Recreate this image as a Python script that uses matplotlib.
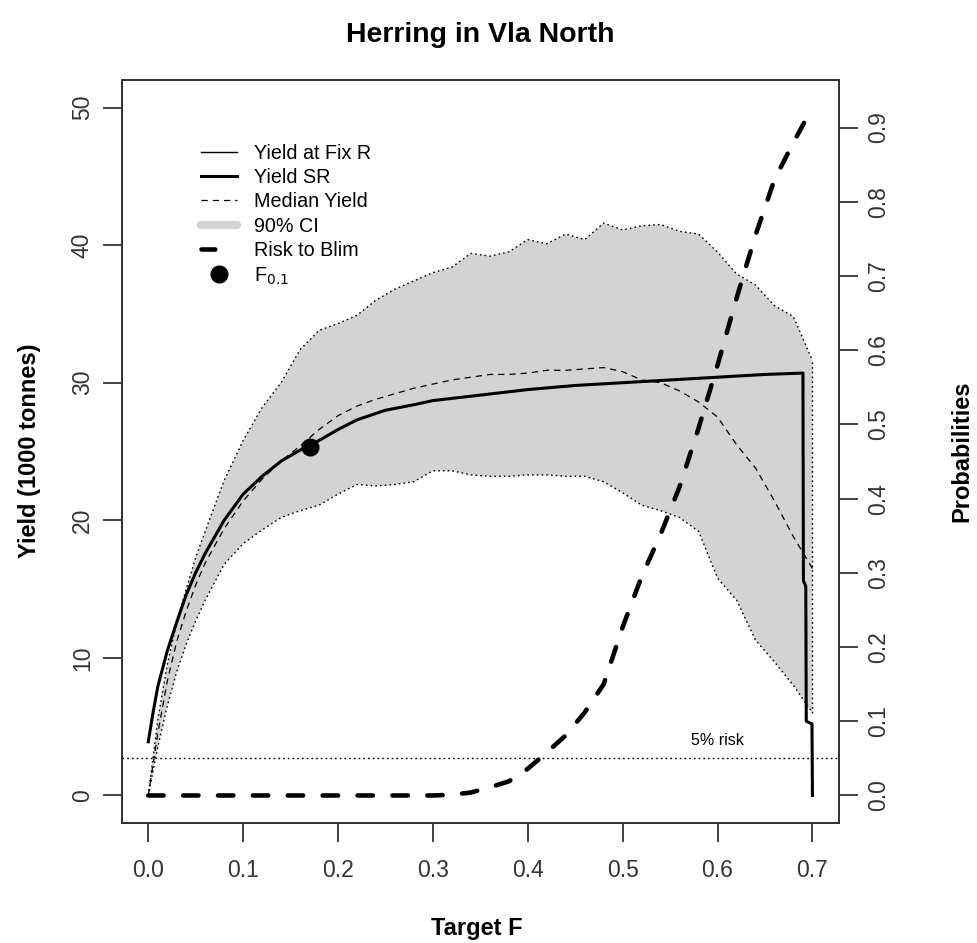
import matplotlib
matplotlib.use("Agg")
import matplotlib.pyplot as plt
from matplotlib.lines import Line2D

plt.rcParams['font.family'] = ['Liberation Sans', 'DejaVu Sans']

# Yield at stock-recruit model (thick solid)
f_sr = [0, 0.005, 0.01, 0.02, 0.03, 0.04, 0.05, 0.06, 0.08, 0.10, 0.12, 0.14,
        0.16, 0.18, 0.20, 0.22, 0.25, 0.28, 0.30, 0.35, 0.40, 0.45, 0.50, 0.55,
        0.60, 0.65, 0.69, 0.6905, 0.6930, 0.6935, 0.6995, 0.70]
yield_sr = [3.9, 6.0, 7.9, 10.5, 12.6, 14.6, 16.2, 17.6, 20.0, 21.9, 23.2, 24.3,
            25.1, 25.8, 26.6, 27.3, 28.0, 28.4, 28.7, 29.1, 29.5, 29.8, 30.0, 30.2,
            30.4, 30.6, 30.7, 15.6, 15.2, 5.4, 5.2, 0.0]

# Simulated yield: median and 90% interval
f_sim = [0, 0.01, 0.02, 0.03, 0.04, 0.05, 0.06, 0.08, 0.10, 0.12, 0.14, 0.16,
         0.18, 0.20, 0.22, 0.24, 0.26, 0.28, 0.30, 0.32, 0.34, 0.36, 0.38, 0.40,
         0.42, 0.44, 0.46, 0.48, 0.50, 0.52, 0.54, 0.56, 0.58, 0.60, 0.62, 0.64,
         0.66, 0.68, 0.70]
yield_median = [0, 4.5, 8.3, 11.2, 13.4, 15.3, 16.9, 19.4, 21.4, 23.0, 24.3, 25.4,
                26.6, 27.6, 28.3, 28.8, 29.2, 29.6, 29.9, 30.2, 30.4, 30.6, 30.6, 30.7,
                30.9, 30.9, 31.0, 31.1, 30.8, 30.2, 30.0, 29.4, 28.6, 27.5, 25.5, 23.8,
                21.4, 18.8, 16.5]
yield_upper = [0, 5.5, 9.5, 12.6, 15.0, 17.3, 19.2, 22.9, 25.8, 28.2, 30.0, 32.4,
               33.8, 34.3, 34.9, 36.0, 36.8, 37.4, 38.0, 38.4, 39.4, 39.2, 39.5, 40.4,
               40.1, 40.8, 40.4, 41.6, 41.1, 41.4, 41.5, 41.0, 40.8, 39.5, 37.9, 37.1,
               35.6, 34.8, 31.6]
yield_lower = [0, 3.5, 6.5, 9.0, 11.0, 12.7, 14.2, 16.8, 18.3, 19.3, 20.2, 20.7,
               21.1, 21.9, 22.6, 22.5, 22.6, 22.8, 23.6, 23.6, 23.3, 23.2, 23.2, 23.3,
               23.3, 23.2, 23.2, 22.8, 22.0, 21.1, 20.7, 20.2, 19.2, 15.8, 14.2, 11.3,
               9.7, 8.0, 6.0]

# Probability of SSB falling below Blim
f_risk = [0, 0.30, 0.32, 0.34, 0.36, 0.38, 0.40, 0.42, 0.44, 0.46, 0.48, 0.50,
          0.52, 0.54, 0.56, 0.58, 0.60, 0.62, 0.64, 0.66, 0.68, 0.70]
risk_blim = [0, 0, 0.001, 0.004, 0.011, 0.019, 0.036, 0.058, 0.081, 0.112, 0.150,
             0.227, 0.295, 0.352, 0.416, 0.495, 0.58, 0.67, 0.755, 0.83, 0.88, 0.927]

f01 = 0.17
yield_f01 = 25.3
risk_level = 0.05

x_ticks = [0.0, 0.1, 0.2, 0.3, 0.4, 0.5, 0.6, 0.7]
y_ticks = [0, 10, 20, 30, 40, 50]
p_ticks = [0.0, 0.1, 0.2, 0.3, 0.4, 0.5, 0.6, 0.7, 0.8, 0.9]

W, H = 978, 943
fig = plt.figure(figsize=(W / 100, H / 100), dpi=100)
ax = fig.add_axes([121.7 / W, 1 - 823 / H, (839 - 121.7) / W, (823 - 80) / H])

ymax_data = 50.0
ylim = (-0.04 * ymax_data, 1.04 * ymax_data)
pscale = max(risk_blim) / ymax_data

DOT = (1.2, 2.2)
RISK_DASH = (3.35, 4.26)

# 90% interval band
band_x = f_sim + f_sim[::-1]
band_y = yield_upper + yield_lower[::-1]
ax.fill(band_x, band_y, facecolor='#d3d3d3', edgecolor='none', zorder=1)
ax.plot(f_sim, yield_upper, color='black', lw=1.0, dashes=DOT, zorder=2)
ax.plot(f_sim, yield_lower, color='black', lw=1.0, dashes=DOT, zorder=2)
ax.plot([f_sim[-1], f_sim[-1]], [yield_lower[-1], yield_upper[-1]],
        color='black', lw=1.0, dashes=DOT, zorder=2)

ax.plot(f_sim, yield_median, color='black', lw=0.9, dashes=(5, 4), zorder=3)
ax.plot(f_sr, yield_sr, color='black', lw=2.2, zorder=4)

# risk line drawn on the yield scale, right axis shows probabilities
ax.plot(f_risk, [r / pscale for r in risk_blim], color='black', lw=3.3,
        dashes=RISK_DASH, dash_capstyle='round', zorder=5)
ax.axhline(risk_level / pscale, color='black', lw=1.0, dashes=DOT, zorder=5)
ax.text(0.6, 4.0, '5% risk', fontsize=11.5, ha='center', va='center')

ax.plot([f01], [yield_f01], 'o', color='black', ms=12, zorder=6)

ax.set_xlim(-0.028, 0.728)
ax.set_ylim(*ylim)
ax.set_xticks(x_ticks)
ax.set_xticklabels([f'{v:.1f}' for v in x_ticks])
ax.set_yticks(y_ticks)
ax.set_yticklabels([str(v) for v in y_ticks])

ax2 = ax.twinx()
ax2.set_position(ax.get_position())
ax2.set_ylim(ylim[0] * pscale, ylim[1] * pscale)
ax2.set_yticks(p_ticks)
ax2.set_yticklabels([f'{v:.1f}' for v in p_ticks])

for a in (ax, ax2):
    for s in a.spines.values():
        s.set_linewidth(1.3)
        s.set_color('#333333')
    a.tick_params(length=14, width=1.3, color='#333333', labelsize=16.5,
                  labelcolor='#333333')
ax.tick_params(axis='x', pad=12)
ax.tick_params(axis='y', pad=6)
ax2.tick_params(axis='y', pad=6)
for lab in ax.get_yticklabels():
    lab.set_rotation(90)
    lab.set_va('center')
for lab in ax2.get_yticklabels():
    lab.set_rotation(90)
    lab.set_va('center')

fig.text(480 / W, 1 - 35 / H, 'Herring in Vla North', ha='center', va='center',
         fontsize=20.5, fontweight='bold')
fig.text(477 / W, 1 - 928 / H, 'Target F', ha='center', va='center',
         fontsize=17, fontweight='bold')
fig.text(30 / W, 1 - 451 / H, 'Yield (1000 tonnes)', ha='center', va='center',
         rotation=90, fontsize=17, fontweight='bold')
fig.text(962 / W, 1 - 451 / H, 'Probabilities', ha='center', va='center',
         rotation=90, fontsize=17, fontweight='bold')

handles = [
    Line2D([], [], color='black', lw=1.0),
    Line2D([], [], color='black', lw=2.2),
    Line2D([], [], color='black', lw=0.9, dashes=(5, 4)),
    Line2D([], [], color='#d3d3d3', lw=6, solid_capstyle='round'),
    Line2D([], [], color='black', lw=3.3, dashes=(3.0, 20), dash_capstyle='round'),
    Line2D([], [], color='black', marker='o', ms=12, ls='none'),
]
labels = ['Yield at Fix R', 'Yield SR', 'Median Yield', '90% CI', 'Risk to Blim',
          r'F$_{0.1}$']
ax.legend(handles, labels, loc='upper left', bbox_to_anchor=(0.1, 0.925),
          frameon=False, fontsize=14.2, handlelength=1.83, handletextpad=0.86,
          labelspacing=0.27, borderaxespad=0)

fig.savefig('out.png', dpi=100)
